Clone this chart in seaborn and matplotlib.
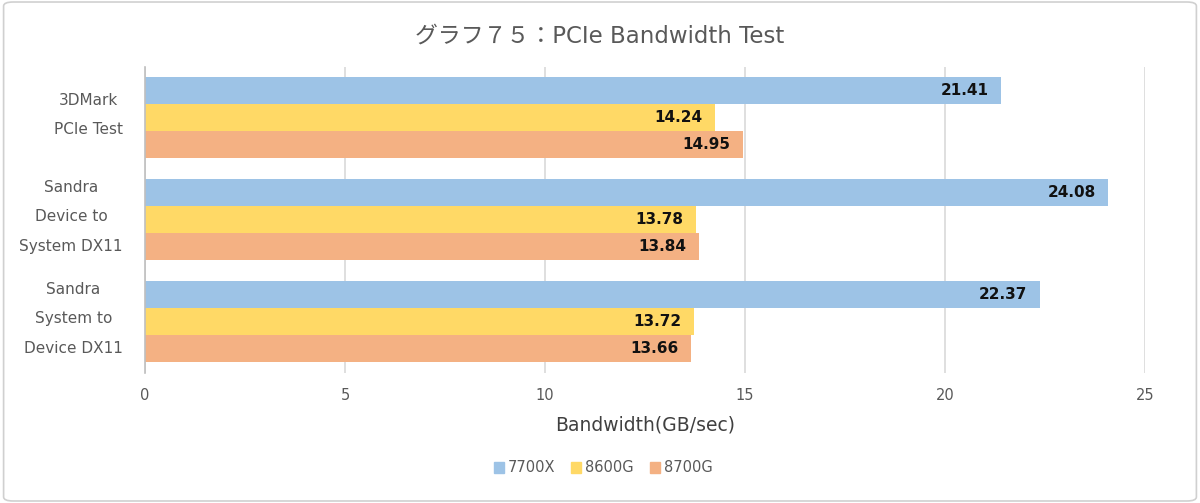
import numpy as np
import pandas as pd
import matplotlib
matplotlib.use("Agg")
import matplotlib.pyplot as plt
import matplotlib.transforms as mtransforms
import seaborn as sns
from matplotlib.patches import FancyBboxPatch

# data
tests = ["3DMark\nPCIe Test", "Sandra\nDevice to\nSystem DX11", "Sandra\nSystem to\nDevice DX11"]
cpus = ["7700X", "8600G", "8700G"]
bw_7700x = [21.41, 24.08, 22.37]
bw_8600g = [14.24, 13.78, 13.72]
bw_8700g = [14.95, 13.84, 13.66]
palette = ["#9DC3E6", "#FFD966", "#F4B183"]

sns.set_theme(style="white")
plt.rcParams["font.family"] = ["DejaVu Sans", "Noto Sans CJK JP"]

df = pd.DataFrame({
    "test": tests * 3,
    "cpu": np.repeat(cpus, len(tests)),
    "bw": bw_7700x + bw_8600g + bw_8700g,
})

grey = "#595959"
fig = plt.figure(figsize=(12, 5.03), dpi=100)
ax = fig.add_axes([145 / 1200, 1 - 372.5 / 503, 1000 / 1200, 306 / 503])

sns.barplot(data=df, y="test", x="bw", hue="cpu", hue_order=cpus, order=tests,
            palette=palette, orient="h", width=0.8, saturation=1, ax=ax,
            legend=False, errorbar=None, linewidth=0)

for cont in ax.containers:
    labels = ax.bar_label(cont, fmt="%.2f", padding=-9, label_type="edge",
                          fontsize=11, fontweight="bold", color="#111111")
    for lbl in labels:
        lbl.set_horizontalalignment("right")

ax.set_xlim(0, 25)
ax.set_xticks([0, 5, 10, 15, 20, 25])
ax.xaxis.grid(True, color="#D9D9D9", linewidth=1.2)
ax.set_axisbelow(True)
for s in ["top", "right", "bottom"]:
    ax.spines[s].set_visible(False)
ax.spines["left"].set_color("#BFBFBF")
ax.spines["left"].set_linewidth(1.2)
ax.tick_params(axis="x", length=0, labelsize=10.5, colors=grey, pad=11)
ax.tick_params(axis="y", length=0, labelsize=11, colors=grey, pad=16)
shift = mtransforms.ScaledTranslation(0, 8.2 / 72, fig.dpi_scale_trans)
for t in ax.get_yticklabels():
    t.set_multialignment("center")
    t.set_linespacing(2.2)
    t.set_transform(t.get_transform() + shift)
ax.set_ylabel("")
ax.set_xlabel("Bandwidth(GB/sec)", fontsize=13.5, color="#404040", labelpad=9)

fig.suptitle("グラフ７５：PCIe Bandwidth Test", y=1 - 36 / 503, va="center",
             fontsize=16.5, color=grey)

handles = [plt.Rectangle((0, 0), 1, 1, color=c) for c in palette]
fig.legend(handles, cpus, loc="center", bbox_to_anchor=(603 / 1200, 1 - 468 / 503),
           ncol=3, frameon=False, fontsize=10.5, labelcolor=grey,
           handlelength=0.7, handleheight=0.7, handletextpad=0.25,
           columnspacing=1.1)

fig.patches.append(FancyBboxPatch((0.003, 0.004), 0.994, 0.992,
                                  boxstyle="round,pad=0,rounding_size=0.008",
                                  transform=fig.transFigure, fill=False,
                                  edgecolor="#D0D0D0", linewidth=1.2))

fig.savefig("out.png", dpi=100)
